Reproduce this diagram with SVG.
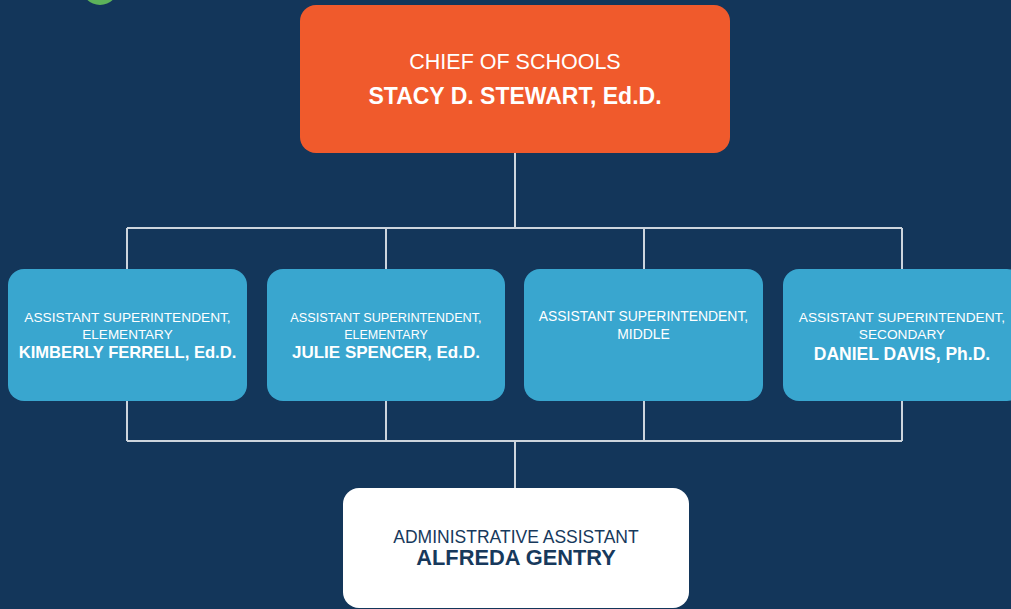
<svg xmlns="http://www.w3.org/2000/svg" width="1011" height="609" viewBox="0 0 1011 609">
  <style>
    .conn { stroke: #CDD5DD; stroke-width: 2; fill: none; }
    .t { font-family: "Liberation Sans", Arial, sans-serif; text-anchor: middle; }
    .w { fill: #FFFFFF; }
    .d { fill: #17395C; }
    .b { font-weight: bold; }
    .blue { fill: #39A6CF; }
  </style>
  <rect x="0" y="0" width="1011" height="609" fill="#13365A"/>
  <circle cx="100" cy="-13.5" r="18.5" fill="#5DB35A"/>

  <g id="connectors">
    <path class="conn" d="M515 153 V228 M127 228 H902 M127 228 V269 M386 228 V269 M644 228 V269 M902 228 V269"/>
    <path class="conn" d="M127 401 V441 M386 401 V441 M644 401 V441 M902 401 V441 M127 441 H902 M515 441 V489"/>
  </g>

  <g id="chief">
    <rect x="300" y="5" width="430" height="148" rx="16" fill="#F05A2C"/>
    <text class="t w" x="515" y="69" font-size="21.5">CHIEF OF SCHOOLS</text>
    <text class="t w b" x="515" y="104" font-size="23">STACY D. STEWART, Ed.D.</text>
  </g>

  <g id="asst1">
    <rect class="blue" x="8" y="269" width="239" height="132" rx="16"/>
    <text class="t w" x="127.5" y="322" font-size="13.7">ASSISTANT SUPERINTENDENT,</text>
    <text class="t w" x="127.5" y="339" font-size="13.5">ELEMENTARY</text>
    <text class="t w b" x="127.5" y="358" font-size="16.6">KIMBERLY FERRELL, Ed.D.</text>
  </g>

  <g id="asst2">
    <rect class="blue" x="267" y="269" width="238" height="132" rx="16"/>
    <text class="t w" x="386" y="322" font-size="12.7">ASSISTANT SUPERINTENDENT,</text>
    <text class="t w" x="386" y="339" font-size="12.5">ELEMENTARY</text>
    <text class="t w b" x="386" y="358" font-size="17">JULIE SPENCER, Ed.D.</text>
  </g>

  <g id="asst3">
    <rect class="blue" x="524" y="269" width="239" height="132" rx="16"/>
    <text class="t w" x="643.5" y="321" font-size="13.9">ASSISTANT SUPERINTENDENT,</text>
    <text class="t w" x="643.5" y="339" font-size="13.9">MIDDLE</text>
  </g>

  <g id="asst4">
    <rect class="blue" x="783" y="269" width="240" height="132" rx="16"/>
    <text class="t w" x="902" y="322" font-size="13.7">ASSISTANT SUPERINTENDENT,</text>
    <text class="t w" x="902" y="339" font-size="13.7">SECONDARY</text>
    <text class="t w b" x="902" y="360" font-size="17.5">DANIEL DAVIS, Ph.D.</text>
  </g>

  <g id="admin">
    <rect x="343" y="488" width="346" height="120" rx="16" fill="#FFFFFF"/>
    <text class="t d" x="516" y="543" font-size="17.5">ADMINISTRATIVE ASSISTANT</text>
    <text class="t d b" x="516" y="565" font-size="21.8">ALFREDA GENTRY</text>
  </g>
</svg>
